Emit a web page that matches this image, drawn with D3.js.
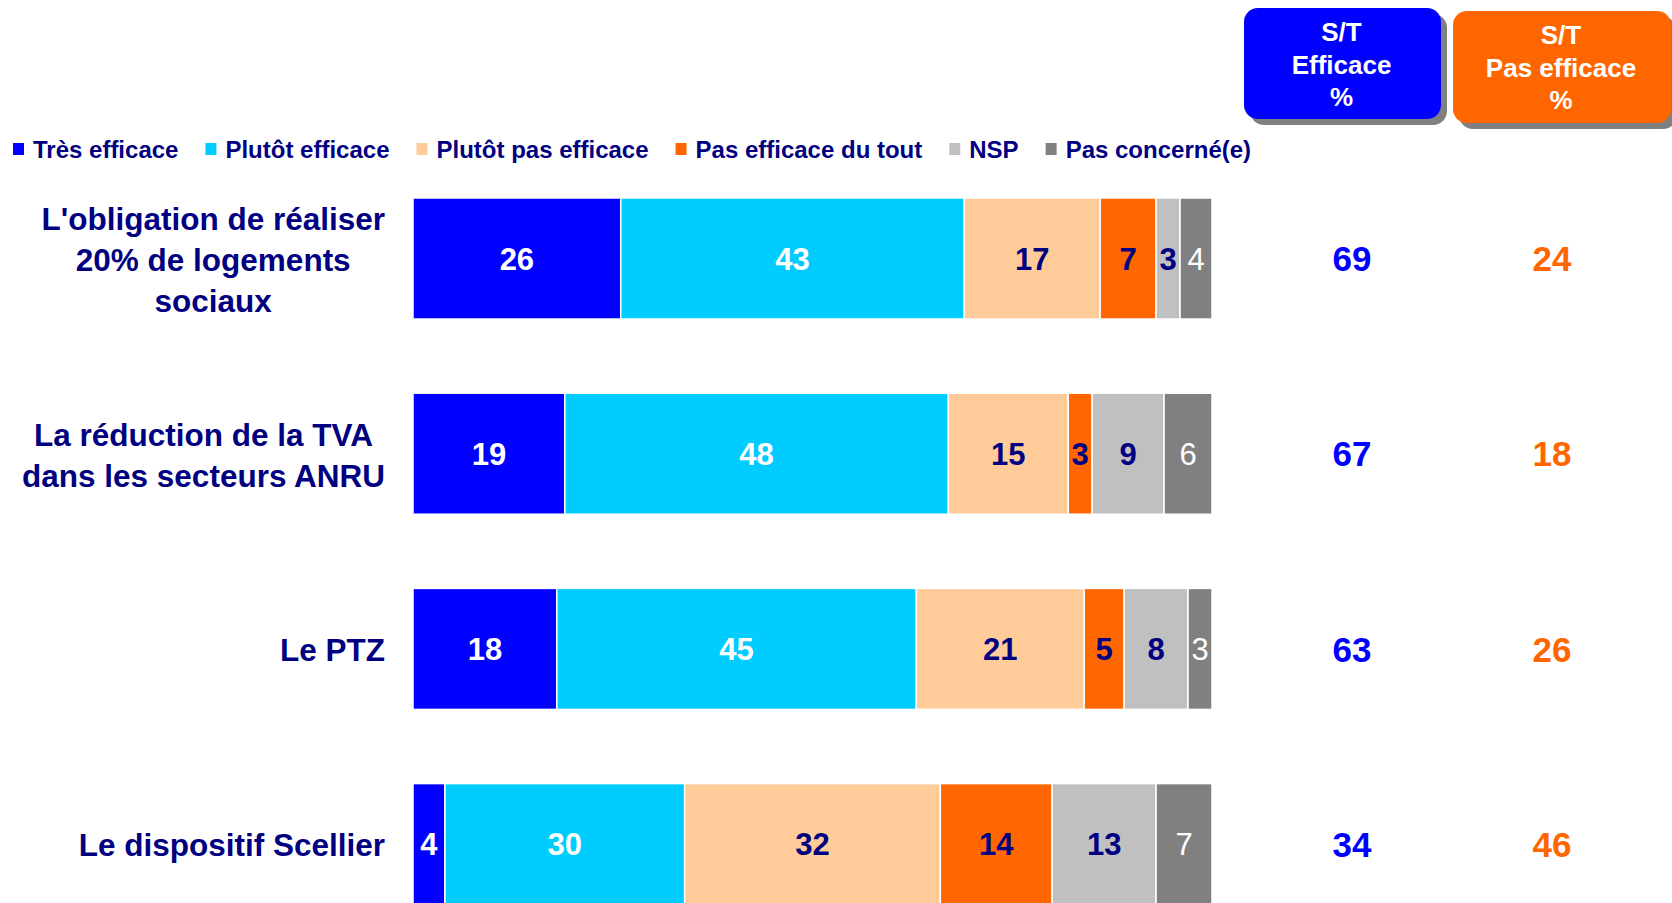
<!DOCTYPE html>
<html>
<head>
<meta charset="utf-8">
<script src="https://cdn.jsdelivr.net/npm/d3@7"></script>
<style>
  body { margin: 0; background: #fff; }
  svg { display: block; font-family: "Liberation Sans", Arial, sans-serif; }
</style>
</head>
<body>
<svg width="1672" height="903"></svg>
<script>
var categories = [
  ["L'obligation de réaliser", "20% de logements", "sociaux"],
  ["La réduction de la TVA", "dans les secteurs ANRU"],
  ["Le PTZ"],
  ["Le dispositif Scellier"]
];
var seriesNames = ["Très efficace", "Plutôt efficace", "Plutôt pas efficace", "Pas efficace du tout", "NSP", "Pas concerné(e)"];
var tresEfficace     = [26, 19, 18, 4];
var plutotEfficace   = [43, 48, 45, 30];
var plutotPas        = [17, 15, 21, 32];
var pasDuTout        = [7, 3, 5, 14];
var nsp              = [3, 9, 8, 13];
var pasConcerne      = [4, 6, 3, 7];
var stEfficace       = [69, 67, 63, 34];
var stPasEfficace    = [24, 18, 26, 46];
var headerEfficace   = ["S/T", "Efficace", "%"];
var headerPas        = ["S/T", "Pas efficace", "%"];

var colors = ["#0000ff", "#00ccff", "#ffcc99", "#ff6600", "#c0c0c0", "#808080"];
var labelColors = ["#fff", "#fff", "#000080", "#000080", "#000080", "#fff"];
var labelWeights = ["bold", "bold", "bold", "bold", "bold", "normal"];
var navy = "#000080";

var svg = d3.select("svg");

var rows = categories.map(function(c, i) {
  var r = { key: i, lines: c };
  r.values = [tresEfficace[i], plutotEfficace[i], plutotPas[i], pasDuTout[i], nsp[i], pasConcerne[i]];
  return r;
});

var x = d3.scaleLinear().domain([0, 100]).range([413, 1212]);
var y = d3.scaleBand()
    .domain(rows.map(function(d) { return d.key; }))
    .range([160.9, 941.7])
    .paddingInner(0.38)
    .paddingOuter(0.19);

var keys = d3.range(6);
var stack = d3.stack()
    .keys(keys)
    .value(function(d, k) { return d.values[k]; });
var layers = stack(rows);

// bars
var layer = svg.append("g").selectAll("g")
  .data(layers)
  .enter().append("g");

layer.selectAll("rect")
  .data(function(l) { return l.map(function(s) { return { s: s, k: l.key }; }); })
  .enter().append("rect")
    .attr("x", function(d) { return x(d.s[0]); })
    .attr("y", function(d) { return y(d.s.data.key); })
    .attr("width", function(d) { return x(d.s[1]) - x(d.s[0]); })
    .attr("height", y.bandwidth())
    .attr("fill", function(d) { return colors[d.k]; })
    .attr("stroke", "#fff")
    .attr("stroke-width", 1.5);

layer.selectAll("text")
  .data(function(l) { return l.map(function(s) { return { s: s, k: l.key }; }); })
  .enter().append("text")
    .attr("x", function(d) { return (x(d.s[0]) + x(d.s[1])) / 2; })
    .attr("y", function(d) { return y(d.s.data.key) + y.bandwidth() / 2; })
    .attr("dy", "0.36em")
    .attr("text-anchor", "middle")
    .style("font-size", "31px")
    .style("font-weight", function(d) { return labelWeights[d.k]; })
    .style("fill", function(d) { return labelColors[d.k]; })
    .text(function(d) { return d.s.data.values[d.k]; });

// category labels: centred lines, block right-aligned
var catG = svg.append("g").selectAll("g")
  .data(rows)
  .enter().append("g");

catG.each(function(d) {
  var g = d3.select(this);
  var n = d.lines.length, lh = 41;
  var cy = y(d.key) + y.bandwidth() / 2 + 1;
  var t = g.selectAll("text")
    .data(d.lines)
    .enter().append("text")
      .attr("text-anchor", "middle")
      .attr("y", function(l, j) { return cy + (j - (n - 1) / 2) * lh; })
      .attr("dy", "0.36em")
      .style("font-size", "31.5px")
      .style("font-weight", "bold")
      .style("fill", navy)
      .text(function(l) { return l; });
  var w = d3.max(t.nodes(), function(n) { return n.getComputedTextLength(); });
  t.attr("x", 385 - w / 2);
});

// S/T columns
var stCols = [
  { vals: stEfficace, color: "#0000ff", cx: 1352 },
  { vals: stPasEfficace, color: "#ff6600", cx: 1552 }
];
stCols.forEach(function(c) {
  svg.append("g").selectAll("text")
    .data(rows)
    .enter().append("text")
      .attr("x", c.cx)
      .attr("y", function(d) { return y(d.key) + y.bandwidth() / 2; })
      .attr("dy", "0.36em")
      .attr("text-anchor", "middle")
      .style("font-size", "35px")
      .style("font-weight", "bold")
      .style("fill", c.color)
      .text(function(d) { return c.vals[d.key]; });
});

// header boxes
var headers = [
  { x: 1244, y: 8, w: 197, h: 111, fill: "#0000ff", lines: headerEfficace },
  { x: 1453, y: 11, w: 218, h: 112, fill: "#ff6600", lines: headerPas }
];
var hg = svg.append("g").selectAll("g")
  .data(headers)
  .enter().append("g");
hg.append("rect")
  .attr("x", function(d) { return d.x + 6; })
  .attr("y", function(d) { return d.y + 6; })
  .attr("width", function(d) { return d.w; })
  .attr("height", function(d) { return d.h; })
  .attr("rx", 14)
  .attr("fill", "#808080");
hg.append("rect")
  .attr("x", function(d) { return d.x; })
  .attr("y", function(d) { return d.y; })
  .attr("width", function(d) { return d.w; })
  .attr("height", function(d) { return d.h; })
  .attr("rx", 14)
  .attr("fill", function(d) { return d.fill; });
hg.each(function(d) {
  d3.select(this).selectAll("text")
    .data(d.lines)
    .enter().append("text")
      .attr("x", d.x + d.w / 2 - 1)
      .attr("y", function(l, j) { return d.y + 24 + j * 32.5; })
      .attr("dy", "0.36em")
      .attr("text-anchor", "middle")
      .style("font-size", "26px")
      .style("font-weight", "bold")
      .style("fill", "#fff")
      .text(function(l) { return l; });
});

// legend (flowing)
var legend = svg.append("g");
var lx = 13;
seriesNames.forEach(function(name, i) {
  legend.append("rect")
    .attr("x", lx)
    .attr("y", 143)
    .attr("width", 11)
    .attr("height", 12)
    .attr("fill", colors[i]);
  var t = legend.append("text")
    .attr("x", lx + 20)
    .attr("y", 149)
    .attr("dy", "0.36em")
    .style("font-size", "24px")
    .style("font-weight", "bold")
    .style("fill", navy)
    .text(name);
  lx += 20 + t.node().getComputedTextLength() + 27;
});
</script>
</body>
</html>
